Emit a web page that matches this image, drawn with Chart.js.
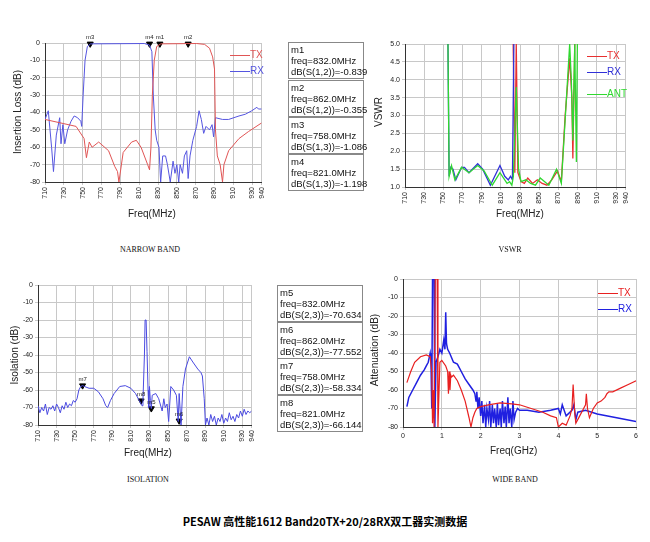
<!DOCTYPE html>
<html><head><meta charset="utf-8">
<script src="https://cdn.jsdelivr.net/npm/chart.js@4"></script>
<style>
body{margin:0;width:650px;height:542px;background:#fff;position:relative;overflow:hidden;font-family:Arial,"Liberation Sans",sans-serif}
canvas{position:absolute}
.t{position:absolute;font-size:10px;color:#222;white-space:nowrap}
.yt{position:absolute;font-size:10px;color:#222;white-space:nowrap;transform:translate(-50%,-50%) rotate(-90deg)}
.box{position:absolute;border:1px solid #888;font-size:9.5px;line-height:11px;padding:1px 2px;width:76px;box-sizing:border-box;color:#111}
.cap{position:absolute;font-family:"Liberation Serif",serif;font-size:8px;transform:translateX(-50%);color:#111}
.lg{position:absolute;height:1px}
</style></head><body>
<canvas id="c1" width="272" height="200" style="left:0px;top:30px"></canvas>
<canvas id="c2" width="276" height="200" style="left:360px;top:30px"></canvas>
<canvas id="c3" width="262" height="200" style="left:0px;top:270px"></canvas>
<canvas id="c4" width="280" height="190" style="left:360px;top:270px"></canvas>

<div class="yt" style="left:17px;top:112px">Insertion Loss (dB)</div>
<div class="t" style="left:128px;top:208px">Freq(MHz)</div>
<div class="yt" style="left:378px;top:112px">VSWR</div>
<div class="t" style="left:496px;top:208px">Freq(MHz)</div>
<div class="yt" style="left:14px;top:355px">Isolation (dB)</div>
<div class="t" style="left:124px;top:447px">Freq(MHz)</div>
<div class="yt" style="left:374px;top:350px">Attenuation (dB)</div>
<div class="t" style="left:490px;top:445px">Freq(GHz)</div>

<div class="lg" style="left:230px;top:55px;width:20px;background:#e05555"></div><div class="t" style="left:250px;top:49px;color:#e05555">TX</div>
<div class="lg" style="left:230px;top:71px;width:20px;background:#5555e0"></div><div class="t" style="left:250px;top:65px;color:#5555e0">RX</div>
<div class="lg" style="left:587px;top:56px;width:20px;background:#e83030"></div><div class="t" style="left:607px;top:50px;color:#e83030">TX</div>
<div class="lg" style="left:587px;top:72px;width:20px;background:#3030d8"></div><div class="t" style="left:607px;top:66px;color:#3030d8">RX</div>
<div class="lg" style="left:587px;top:94px;width:20px;background:#30d830"></div><div class="t" style="left:607px;top:88px;color:#30d830">ANT</div>
<div class="lg" style="left:598px;top:293px;width:20px;background:#e82020"></div><div class="t" style="left:618px;top:287px;color:#e82020">TX</div>
<div class="lg" style="left:598px;top:309px;width:20px;background:#2020e0"></div><div class="t" style="left:618px;top:303px;color:#2020e0">RX</div>

<div class="box" style="left:288px;top:42px">m1<br>freq=832.0MHz<br>dB(S(1,2))=-0.839</div>
<div class="box" style="left:288px;top:80px">m2<br>freq=862.0MHz<br>dB(S(1,2))=-0.355</div>
<div class="box" style="left:288px;top:117px">m3<br>freq=758.0MHz<br>dB(S(1,3))=-1.086</div>
<div class="box" style="left:288px;top:154px">m4<br>freq=821.0MHz<br>dB(S(1,3))=-1.198</div>
<div class="box" style="left:277px;top:285px;width:86px">m5<br>freq=832.0MHz<br>dB(S(2,3))=-70.634</div>
<div class="box" style="left:277px;top:322px;width:86px">m6<br>freq=862.0MHz<br>dB(S(2,3))=-77.552</div>
<div class="box" style="left:277px;top:358px;width:86px">m7<br>freq=758.0MHz<br>dB(S(2,3))=-58.334</div>
<div class="box" style="left:277px;top:395px;width:86px">m8<br>freq=821.0MHz<br>dB(S(2,3))=-66.144</div>

<div class="cap" style="left:150px;top:245px">NARROW BAND</div>
<div class="cap" style="left:510px;top:245px">VSWR</div>
<div class="cap" style="left:148px;top:475px">ISOLATION</div>
<div class="cap" style="left:515px;top:475px">WIDE BAND</div>
<div style="position:absolute;left:0;width:650px;top:513px;text-align:center;font-weight:bold;font-size:11px;font-family:'Noto Sans CJK SC',sans-serif">PESAW 高性能1612 Band20TX+20/28RX双工器实测数据</div>

<script>
// ---- Narrow band ----
const nbTxF=[710,743,751.5,754,757,760,767,777.5,784,787,788.5,793,802,807,812,819,821,822.5,824,826,828.6,833,871,879.5,884.7,888,890,891,893,896,898.5,900,905,916,926,940];
const nbTxV=[-44,-48,-55,-66,-57,-60,-57,-62,-71,-74,-80,-63,-57,-56,-60,-70,-73,-60,-30,-10,-2,-0.5,-0.3,-0.8,-3,-8,-15,-50,-65,-70,-80,-70,-62,-55,-51,-46];
const nbRxF=[710,713.5,717,719,722,725.6,727,729,731,734,737.7,741,744.6,748,749,750.5,752.5,755,758.4,815.5,821,823.5,825,827,828.6,831,832.8,835,838,840,843,846,848,850,852,853.5,856,858,860.5,862,864,867,871,873.6,876,878.5,881,884.7,887.4,889,891,898.5,905,916,922.7,929.6,935,936.6,940];
const nbRxV=[-44,-39,-60,-74,-53,-43,-58,-47,-58,-50,-45,-42,-43,-45,-48,-30,-10,-2,-0.5,-0.3,-1.2,-5,-30,-50,-56,-60,-80,-65,-65,-70,-80,-68,-75,-70,-80,-70,-75,-65,-62,-78,-65,-56,-48,-39,-44,-52,-48,-50,-47,-54,-43,-44,-44,-42,-41,-39,-37,-38,-38];
const nbMkF=[758,821,832,862], nbMkL=['m3','m4','m1','m2'];
const mhzTicks=[710,730,750,770,790,810,830,850,870,890,910,930,940];
// ---- VSWR ----
const vRxF=[754.8,756,757.8,760,763,769,772,776.7,785.8,791,799,809,814,817.7,820,822,823.5];
const vRxV=[5.0,1.3,1.55,1.5,1.2,1.55,1.55,1.4,1.65,1.5,1.05,1.6,1.3,1.2,1.3,1.2,5.0];
const vAntF=[754.8,756,758.5,762,769,776.7,785.8,792.5,801,809,814,816.4,819,821.4,823,826,828.4,831,836,841,846,851,860,868,873,881.7,883.4,885,887,888.7,889.7];
const vAntV=[5.0,1.3,1.6,1.2,1.55,1.4,1.6,1.45,1.05,1.4,1.2,1.1,1.15,1.05,1.3,3.8,1.5,1.15,1.2,1.1,1.05,1.25,1.05,1.5,1.1,5.0,4.0,2.3,5.0,1.7,5.0];
const vTxF=[822.8,824.5,826,827.7,831,834.4,838,843,848,853,858,863,869,873,877,881.7,884,885,887];
const vTxV=[5.0,1.4,5.0,1.4,1.15,1.1,1.25,1.1,1.2,1.1,1.05,1.2,1.45,1.15,3.0,4.6,3.5,1.8,5.0];
const vswrTicks=[1,1.5,2,2.5,3,3.5,4,4.5,5];
// ---- Isolation ----
const isoF=[710,712,714,716,718,720,722,724,726,728,730,732,734,736,738,740,742,744,746,748,750,752,754,756,758,760,765,770,775,780,783,785,788,792,798,804,810,815,819,822,823,824.6,825.3,826.4,827.4,828.5,829.2,830,831,832,833,836.8,840,843.7,845.5,847,849,850.7,853,856,859,861,862,864,866,868.8,873,876.7,882,885.4,887,889,890.3,892,894,896,898,900,902,904,906,908,910,912,914,916,918,920,922,924,926,928,930,932,934,936,938,940];
const isoV=[-69,-73,-70,-72,-68,-74,-70,-71,-69,-72,-68,-70,-73,-69,-71,-67,-70,-68,-69,-66,-67,-65,-60,-58,-57.5,-58,-59,-59,-61,-65,-69,-70,-66,-62,-58,-57.5,-59,-62,-66,-69,-66,-40,-20,-20,-38,-60,-70,-58,-66,-70.6,-63,-62,-65,-72,-65,-70,-68,-78,-58,-60,-63,-78,-62,-80,-58,-48,-41,-44,-48,-50,-52,-65,-80,-76,-80,-74,-78,-75,-80,-76,-78,-74,-79,-76,-78,-73,-77,-75,-78,-74,-76,-72,-75,-71,-74,-72,-73,-72];
const isoMkF=[758,821,832,862], isoMkV=[-57.5,-66.1,-70.6,-77.6], isoMkL=['m7','m8','m5','m6'];
// ---- Wide band ----
const wbTxF=[0.1,0.2,0.3,0.45,0.6,0.7,0.74,0.76,0.78,0.8,0.83,0.88,0.9,0.95,1.0,1.1,1.15,1.17,1.19,1.21,1.23,1.25,1.3,1.4,1.5,1.6,1.7,1.75,1.8,1.85,1.9,2.0,2.2,2.5,2.8,3.0,3.3,3.6,3.8,3.95,4.0,4.1,4.2,4.3,4.35,4.38,4.42,4.45,4.55,4.65,4.7,4.72,4.75,4.8,4.9,5.0,5.1,5.2,5.25,5.3,5.4,5.6,5.8,6.0];
const wbTxV=[-56,-50,-45,-42,-41,-42,-50,-78,-60,-80,0,0,-80,-45,-44,-47,-50,-62,-50,-60,-52,-53,-52,-55,-60,-66,-75,-80,-75,-72,-70,-69,-68,-67,-67.5,-68,-70,-72,-74,-75,-80,-78,-79,-74,-70,-57,-72,-78,-74,-70,-68,-62,-70,-75,-70,-67,-66,-64,-62,-61,-61,-59,-57,-55];
const wbRxF=[0.1,0.15,0.25,0.35,0.45,0.55,0.6,0.65,0.7,0.72,0.74,0.76,0.8,0.82,0.85,0.9,0.95,1.0,1.05,1.08,1.1,1.12,1.15,1.2,1.3,1.4,1.5,1.6,1.7,1.8,1.85,1.88,1.9,1.93,1.96,2.0,2.03,2.06,2.1,2.13,2.16,2.2,2.23,2.26,2.3,2.33,2.36,2.4,2.43,2.46,2.5,2.53,2.56,2.6,2.63,2.66,2.7,2.73,2.76,2.8,2.83,2.86,2.9,2.95,3.0,3.2,3.5,3.8,4.0,4.05,4.1,4.2,4.35,4.4,4.45,4.5,4.7,5.0,5.5,6.0];
const wbRxV=[-69,-64,-60,-56,-52,-49,-47,-45,-40,-44,-70,0,0,-80,-45,-42,-38,-40,-33,-38,-18,-35,-38,-40,-45,-46,-50,-54,-57,-60,-62,-66,-61,-70,-64,-74,-66,-78,-68,-80,-70,-76,-66,-80,-68,-78,-70,-80,-67,-79,-70,-80,-66,-78,-69,-80,-64,-78,-70,-80,-66,-76,-72,-70,-71,-71,-72,-71,-70,-73,-68,-74,-71,-68,-76,-72,-71,-73,-75,-77];
const dbTicks=[0,-10,-20,-30,-40,-50,-60,-70,-80];

const zip=(a,b)=>a.map((x,i)=>({x,y:b[i]}));
const tickFont={size:7,family:'Arial'};
const gridC='#c8c8c8';
const mkPlugin={id:'mk',afterDatasetsDraw(ch){const ctx=ch.ctx;ch.data.datasets.forEach((d,i)=>{if(!d.mkLabels)return;const m=ch.getDatasetMeta(i);ctx.save();ctx.font='6px Arial';ctx.fillStyle='#222';ctx.textAlign='center';m.data.forEach((p,j)=>ctx.fillText(d.mkLabels[j],p.x,p.y-5));ctx.restore();});}};
function mk(id,xTicks,xmin,xmax,rot,yTicks,ymin,ymax,yw,xh,pad,datasets,xfmt){
 const s={x:{type:'linear',min:xmin,max:xmax,grid:{color:gridC,tickLength:3},border:{color:'#333'},
   ticks:{font:tickFont,color:'#222',maxRotation:rot,minRotation:rot,autoSkip:false,padding:2},
   afterBuildTicks:a=>{a.ticks=xTicks.map(v=>({value:v}))},afterFit:a=>{a.height=xh}}};
 if(xfmt) s.x.ticks.callback=xfmt;
 s.y={type:'linear',min:ymin,max:ymax,grid:{color:gridC,tickLength:3},border:{color:'#333'},
   ticks:{font:tickFont,color:'#222',padding:2,callback:v=>v.toFixed(yTicks[1]%1?1:0)},
   afterBuildTicks:a=>{a.ticks=yTicks.map(v=>({value:v}))},afterFit:a=>{a.width=yw}};
 return new Chart(document.getElementById(id),{type:'line',data:{datasets},plugins:[mkPlugin],
  options:{responsive:false,animation:false,devicePixelRatio:1,layout:{padding:pad},
   plugins:{legend:{display:false},tooltip:{enabled:false}},
   elements:{point:{radius:0},line:{borderWidth:1,tension:0}},scales:s}});
}
const L=(data,c,w)=>({data,borderColor:c,borderWidth:w||1,pointRadius:0,fill:false});
const M=(data,labels)=>({data,type:'scatter',showLine:false,pointStyle:'triangle',rotation:180,pointRadius:3.5,backgroundColor:'#000',borderColor:'#000',clip:false,mkLabels:labels});

mk('c1',mhzTicks,710,940,90,dbTicks,-80,0,45,48,{top:13,right:5,left:0,bottom:0},
 [L(zip(nbTxF,nbTxV),'#e05555'),L(zip(nbRxF,nbRxV),'#5555e0'),M(zip(nbMkF,nbMkF.map(()=>-0.5)),nbMkL)]);
mk('c2',mhzTicks,710,940,90,vswrTicks,1,5,45,43,{top:14,right:3,left:0,bottom:0},
 [L(zip(vAntF,vAntV),'#30d830',1.3),L(zip(vRxF,vRxV),'#3030d8',1.3),L(zip(vTxF,vTxV),'#e83030',1.3)]);
mk('c3',mhzTicks,710,940,90,dbTicks,-80,0,38,45,{top:15,right:3,left:0,bottom:0},
 [L(zip(isoF,isoV),'#4a4ae0'),M(zip(isoMkF,isoMkV),isoMkL)]);
mk('c4',[0,1,2,3,4,5,6],0,6,0,dbTicks,-80,0,43,33,{top:9,right:3,left:0,bottom:0},
 [L(zip(wbTxF,wbTxV),'#e82020',1.2),L(zip(wbRxF,wbRxV),'#2020e0',1.5)],v=>v);
</script></body></html>
